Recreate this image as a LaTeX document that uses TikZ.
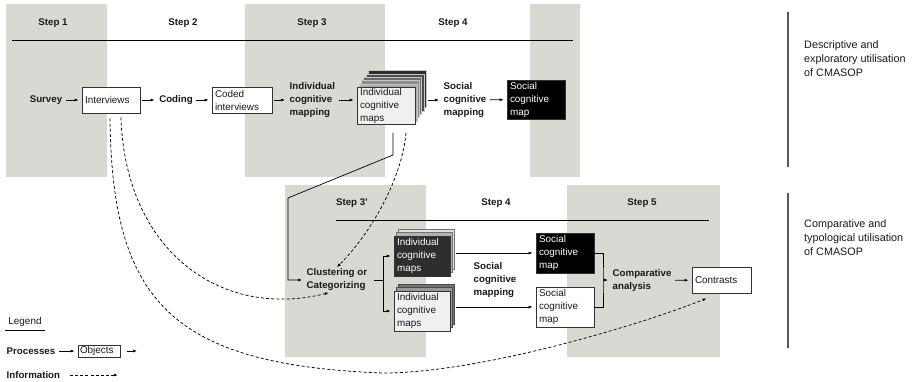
\documentclass[tikz,border=0pt]{standalone}
\usepackage{fontspec}
\setmainfont{Liberation Sans}
\usetikzlibrary{arrows.meta,calc}
\definecolor{panel}{RGB}{216,217,210}
\begin{document}
\begin{tikzpicture}[x=1pt,y=-1pt,
  every node/.style={font=\fontsize{9.9}{13}\selectfont, text=black!90},
  lbl/.style={font=\fontsize{9.7}{13}\selectfont\bfseries, align=left, inner sep=1.5pt},
  box/.style={draw=black!80, line width=0.7pt, fill=white, align=left, inner xsep=3pt, inner ysep=0pt},
  layer/.style={draw=gray!45, line width=0.4pt, inner sep=0pt},
  arr/.style={-{Latex[length=4pt,width=3pt]}, line width=0.7pt, shorten <=2pt, shorten >=3pt},
  info/.style={-{Latex[length=4pt,width=3pt]}, line width=0.75pt, dash pattern=on 3pt off 2.2pt},
  side/.style={draw=black!65, line width=1.3pt},
  rule/.style={line width=0.7pt},
  sidetext/.style={anchor=west, align=left, inner sep=1pt, font=\fontsize{10.8}{14}\selectfont}]
\useasboundingbox (0,0) rectangle (919,382);

% panels
\fill[panel] (6,4) rectangle (107,177);
\fill[panel] (245,4) rectangle (385,177);
\fill[panel] (530,4) rectangle (580,177);
\fill[panel] (285,185) rectangle (426,357);
\fill[panel] (567,185) rectangle (720,357);

% step headers
\node[lbl] (st1) at (53,23) {Step 1};
\node[lbl] (st2) at (183,23) {Step 2};
\node[lbl] (st3) at (312,23) {Step 3};
\node[lbl] (st4) at (453,23) {Step 4};
\draw[rule] (12,40) -- (573,40);
\node[lbl] (st3b) at (352,203) {Step 3'};
\node[lbl] (st4b) at (496,203) {Step 4};
\node[lbl] (st5) at (642,203) {Step 5};
\draw[rule] (336,220) -- (709,220);

% top row
\node[lbl] (survey) at (46,100) {Survey};
\node[box, minimum width=58pt, minimum height=26pt, text width=52pt] (interv) at (111,100) {Interviews};
\node[lbl] (coding) at (176,100) {Coding};
\node[box, minimum width=60pt, minimum height=26pt, text width=54pt] (coded) at (242,100) {Coded\\interviews};
\node[lbl, anchor=west] (icm) at (288,100) {Individual\\cognitive\\mapping};
\foreach \k/\c in {5/black!82, 4/black!70, 3/black!58, 2/black!45, 1/black!32}
  \node[layer, fill=\c, minimum width=58pt, minimum height=37pt] (s1l\k) at ({386+2.2*\k},{106-3.4*\k}) {};
\node[box, fill=black!6, minimum width=58pt, minimum height=37pt, text width=52pt] (stack1) at (386,106) {Individual\\cognitive\\maps};
\node[lbl, anchor=west] (scm) at (442,100) {Social\\cognitive\\mapping};
\node[box, fill=black, text=white, minimum width=58pt, minimum height=39pt, text width=52pt] (smap) at (536,99.5) {Social\\cognitive\\map};

\draw[arr] (survey) -- (interv);
\draw[arr] (interv) -- (coding);
\draw[arr] (coding) -- (coded);
\draw[arr] (coded) -- (icm);
\draw[arr] (icm) -- (icm -| stack1.west);
\draw[arr] (s1l5.east |- scm.west) -- (scm);
\draw[arr] (scm) -- (smap);

% bottom row
\node[lbl, anchor=west] (clust) at (305,280) {Clustering or\\Categorizing};
\coordinate (fk) at (383,280);
\foreach \k/\c in {2/black!12, 1/black!30}
  \node[layer, draw=black!55, fill=\c, minimum width=56pt, minimum height=40pt] (s2l\k) at ({422+2*\k},{256-3.5*\k}) {};
\node[box, fill=black!82, text=white, minimum width=56pt, minimum height=40pt, text width=50pt] (stack2) at (422,256) {Individual\\cognitive\\maps};
\foreach \k/\c in {2/black!55, 1/black!40}
  \node[layer, draw=black!70, fill=\c, minimum width=56pt, minimum height=40pt] (s3l\k) at ({422+2*\k},{311-3.5*\k}) {};
\node[box, fill=black!6, minimum width=56pt, minimum height=40pt, text width=50pt] (stack3) at (422,311) {Individual\\cognitive\\maps};
\node[lbl, anchor=west] (scm2) at (472,280) {Social\\cognitive\\mapping};
\node[box, fill=black, text=white, minimum width=58pt, minimum height=40pt, text width=52pt] (smap2) at (565,253) {Social\\cognitive\\map};
\node[box, minimum width=58pt, minimum height=40pt, text width=52pt] (smap3) at (565,307) {Social\\cognitive\\map};
\coordinate (br) at (603,280);
\node[lbl, anchor=west] (comp) at (611,280.5) {Comparative\\analysis};
\node[box, minimum width=59pt, minimum height=26pt, text width=53pt] (contr) at (721.5,280) {Contrasts};

\draw[line width=0.7pt, shorten <=5pt] (clust) -- (fk);
\draw[arr, shorten <=0pt] (fk) |- (stack2);
\draw[arr, shorten <=0pt] (fk) |- (stack3);
\draw[arr] (s2l2.east |- smap2.west) -- (smap2);
\draw[arr] (s3l2.east |- smap3.west) -- (smap3);
\draw[line width=0.7pt] (smap2.east) -| (br) |- (smap3.east);
\draw[arr, shorten <=0pt] (br) -- (comp);
\draw[arr] (comp) -- (contr);

% link from step 3 maps to clustering
\coordinate (c1) at (393,155);
\coordinate (c2) at (288,198);
\draw[arr, shorten <=8pt] (stack1.south -| c1) -- (c1) -- (c2) |- (clust);
\draw[info] ($(stack1.south)+(20,8)$) .. controls +(-4,45) and +(35,-35) .. (clust.north);

% information links from interviews
\draw[info] ($(interv.south)+(10,4)$) .. controls (125,250) and (220,320) .. ($(clust.south)+(-8,0)$);
\coordinate (lowpt) at (383,373);
\draw[info] ($(interv.south)+(-1,5)$) .. controls (112,300) and (170,365) .. (lowpt)
  .. controls (480,373) and (640,325) .. ($(contr.south west)+(15,5)$);

% right side
\draw[side] (788,12) -- (788,167);
\draw[side] (788,193) -- (788,348);
\node[sidetext] (desc) at (803,59) {Descriptive and\\exploratory utilisation\\of CMASOP};
\node[sidetext] (compt) at (803,238) {Comparative and\\typological utilisation\\of CMASOP};

% legend
\node (leg) at (25,322) {Legend};
\draw[line width=0.5pt] (leg.south west) -- (leg.south east);
\node[lbl, anchor=west] (proc) at (5,351) {Processes};
\node[box, minimum width=42pt, minimum height=12pt, text width=38pt, inner xsep=2pt] (obj) at (99,351) {Objects};
\coordinate (oe) at (137,351);
\draw[arr] (proc) -- (obj);
\draw[arr, shorten <=7pt, shorten >=0pt] (obj) -- (oe);
\node[lbl, anchor=west] (infol) at (5,375) {Information};
\coordinate (ie) at (118,375);
\draw[info, shorten <=8pt] (infol) -- (ie);
\end{tikzpicture}
\end{document}
